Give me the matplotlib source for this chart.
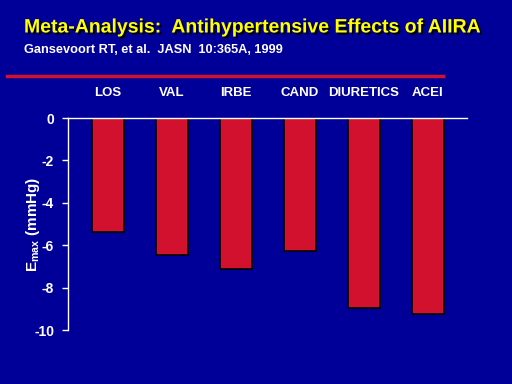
import matplotlib.pyplot as plt
import matplotlib.patheffects as pe
from matplotlib.lines import Line2D

# data
drugs = ['LOS', 'VAL', 'IRBE', 'CAND', 'DIURETICS', 'ACEI']
emax = [-5.4, -6.45, -7.1, -6.25, -8.95, -9.25]
yticks = [0, -2, -4, -6, -8, -10]

bg = '#000099'
red = '#D2112F'
font = ['Liberation Sans', 'DejaVu Sans']

fig = plt.figure(figsize=(5.12, 3.84), dpi=100, facecolor=bg)

# title + citation
fig.text(24 / 512, 1 - 28 / 384, 'Meta-Analysis:  Antihypertensive Effects of AIIRA',
         color='#FFFF00', fontsize=14, fontweight='bold', family=font, va='center',
         path_effects=[pe.withSimplePatchShadow(offset=(1.5, -1.5), shadow_rgbFace='black', alpha=1)])
fig.text(24 / 512, 1 - 50 / 384, 'Gansevoort RT, et al.  JASN  10:365A, 1999',
         color='white', fontsize=9.2, fontweight='bold', family=font, va='center')
fig.add_artist(Line2D([7 / 512, 443 / 512], [1 - 76 / 384] * 2, color=red, lw=2.5))

ax = fig.add_axes([68 / 512, 1 - 330 / 384, 399 / 512, 212 / 384])
ax.set_facecolor(bg)
x = range(len(drugs))
ax.bar(x, emax, width=0.5, color=red, edgecolor='black', linewidth=1.2, zorder=2)

ax.set_xlim(-0.625, 5.61)
ax.set_ylim(-10, 0)
ax.set_yticks(yticks)
ax.set_yticklabels([str(v) for v in yticks], color='white', fontsize=10,
                   fontweight='bold', family=font)
ax.tick_params(axis='y', colors='white', length=4, width=1, pad=6)

ax.xaxis.tick_top()
ax.set_xticks(list(x))
ax.set_xticklabels(drugs, color='white', fontsize=9.5, fontweight='bold', family=font)
ax.tick_params(axis='x', length=0, pad=14)

for s in ['bottom', 'right']:
    ax.spines[s].set_visible(False)
for s in ['left', 'top']:
    ax.spines[s].set_color('white')
    ax.spines[s].set_linewidth(1)

ax.set_ylabel(r'E$_{\mathregular{max}}$ (mmHg)', color='white', fontsize=11,
              fontweight='bold', family=font, labelpad=-6)

fig.savefig('out.png', dpi=100, facecolor=bg)
